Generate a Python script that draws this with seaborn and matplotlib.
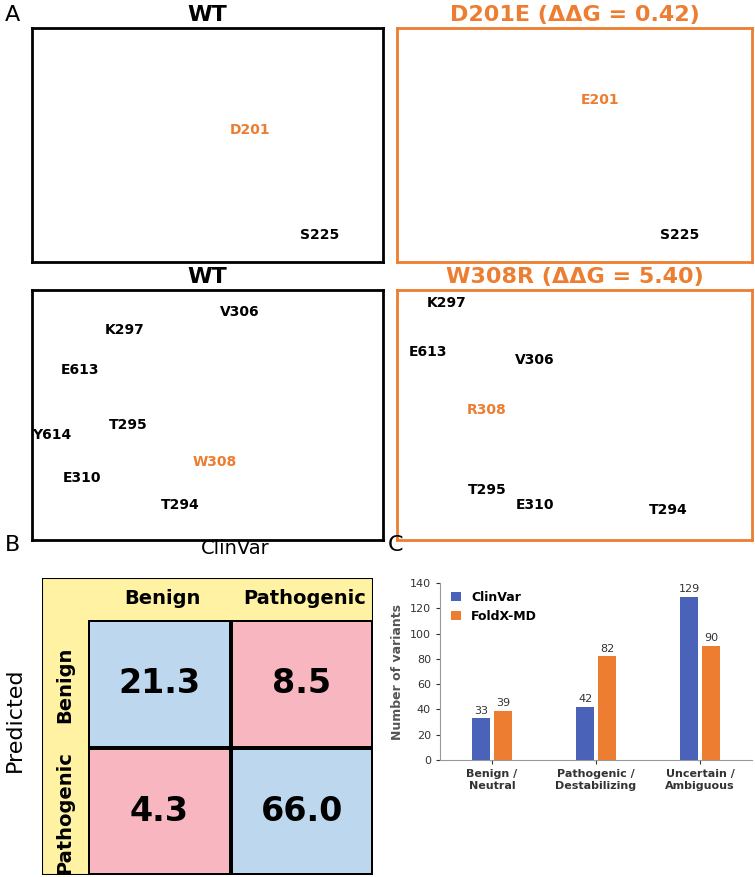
import matplotlib
matplotlib.use("Agg")
import matplotlib.pyplot as plt
import seaborn as sns
import numpy as np
import pandas as pd
from matplotlib.colors import ListedColormap
from matplotlib.patches import Rectangle

# ---- data ----
cm_labels = ["Benign", "Pathogenic"]
cm_values = [[21.3, 8.5], [4.3, 66.0]]
categories = ["Benign /\nNeutral", "Pathogenic /\nDestabilizing", "Uncertain /\nAmbiguous"]
clinvar = [33, 42, 129]
foldx = [39, 82, 90]
panel_titles = ["WT", "D201E (ΔΔG = 0.42)", "WT", "W308R (ΔΔG = 5.40)"]

W, H = 755, 877
fig = plt.figure(figsize=(W/100, H/100), dpi=100)
ORANGE = "#ED7D31"

def ax_px(x0, y0, x1, y1):
    return fig.add_axes([x0/W, 1-y1/H, (x1-x0)/W, (y1-y0)/H])

def ftext(x, y, s, **kw):
    fig.text(x/W, 1-y/H, s, **kw)

# ---- Panel A (structure panels as framed placeholders) ----
boxes = [(32, 28, 383, 262), (397, 28, 752, 262), (32, 290, 383, 540), (397, 290, 752, 540)]
labels = [
    [(218, 102, "D201", ORANGE), (288, 207, "S225", "black")],
    [(203, 72, "E201", ORANGE), (283, 207, "S225", "black")],
    [(93, 40, "K297", "black"), (48, 80, "E613", "black"), (208, 22, "V306", "black"),
     (20, 145, "Y614", "black"), (96, 135, "T295", "black"), (50, 188, "E310", "black"),
     (183, 172, "W308", ORANGE), (148, 215, "T294", "black")],
    [(50, 13, "K297", "black"), (31, 62, "E613", "black"), (138, 70, "V306", "black"),
     (90, 120, "R308", ORANGE), (90, 200, "T295", "black"), (138, 215, "E310", "black"),
     (271, 220, "T294", "black")],
]
for i, (b, t) in enumerate(zip(boxes, panel_titles)):
    ax = ax_px(*b)
    ax.set_xlim(0, b[2]-b[0]); ax.set_ylim(b[3]-b[1], 0)
    ax.set_facecolor("white")
    ax.set_xticks([]); ax.set_yticks([])
    col = "black" if i % 2 == 0 else ORANGE
    for s in ax.spines.values():
        s.set_color(col); s.set_linewidth(2)
    for (x, y, s, c) in labels[i]:
        ax.text(x, y, s, color=c, fontsize=10, fontweight="bold", ha="center", va="center")
    ftext((b[0]+b[2])/2, b[1]-13, t, color=col, fontsize=16, fontweight="bold",
          ha="center", va="center")
ftext(5, 15, "A", fontsize=16, va="center")

# ---- Panel B (confusion matrix) ----
ftext(5, 545, "B", fontsize=16, va="center")
ftext(235, 548, "ClinVar", fontsize=14, ha="center", va="center")
ftext(15, 720, "Predicted", fontsize=16, rotation=90, ha="center", va="center")
bg = ax_px(42, 578, 373, 875)
bg.set_xlim(0, 1); bg.set_ylim(0, 1); bg.axis("off")
bg.add_patch(Rectangle((0, 0), 1, 1, facecolor="#FFF3A3", edgecolor="black", lw=1.5))
for (x, y, s) in [(0.365, 0.93, "Benign"), (0.795, 0.93, "Pathogenic")]:
    bg.text(x, y, s, fontsize=14, fontweight="bold", ha="center", va="center")
for (y, s) in [(0.64, "Benign"), (0.21, "Pathogenic")]:
    bg.text(0.07, y, s, fontsize=14, fontweight="bold", ha="center", va="center", rotation=90)
axh = ax_px(88, 620, 373, 875)
df = pd.DataFrame(cm_values, index=cm_labels, columns=cm_labels)
match = np.array([[0, 1], [1, 0]])
sns.heatmap(match, ax=axh, cmap=ListedColormap(["#BDD7EE", "#F7B6C0"]), cbar=False,
            annot=df.values, fmt=".1f", annot_kws={"fontsize": 24, "fontweight": "bold", "color": "black"},
            linewidths=1.5, linecolor="black", xticklabels=False, yticklabels=False)
axh.set_xlabel(""); axh.set_ylabel("")

# ---- Panel C (bar chart) ----
ftext(388, 545, "C", fontsize=16, va="center")
axc = ax_px(440, 583, 752, 760)
long = pd.DataFrame({
    "cat": categories * 2,
    "src": ["ClinVar"] * 3 + ["FoldX-MD"] * 3,
    "n": clinvar + foldx,
})
sns.barplot(data=long, x="cat", y="n", hue="src", palette=["#4A63B8", ORANGE],
            ax=axc, width=0.42, gap=0.15, saturation=1)
for cont in axc.containers:
    axc.bar_label(cont, fontsize=8, padding=2, color="#333333")
axc.set_ylim(0, 140)
axc.set_yticks(range(0, 141, 20))
axc.tick_params(labelsize=8, colors="#333333", length=3)
for lab in axc.get_xticklabels():
    lab.set_fontweight("bold")
axc.set_xlabel("")
axc.set_ylabel("Number of variants", fontsize=9, color="#555555", fontweight="bold")
sns.despine(ax=axc)
for s in ["left", "bottom"]:
    axc.spines[s].set_color("#999999")
axc.legend(loc="upper left", frameon=False, handlelength=0.8,
           prop={"weight": "bold", "size": 9}, bbox_to_anchor=(0.0, 1.02))

fig.savefig("out.png", dpi=100)
